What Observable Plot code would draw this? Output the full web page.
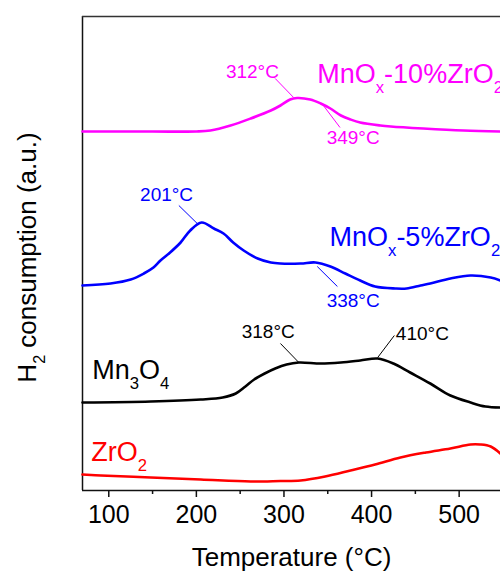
<!DOCTYPE html>
<html>
<head>
<meta charset="utf-8">
<script src="https://cdn.jsdelivr.net/npm/d3@7"></script>
<script src="https://cdn.jsdelivr.net/npm/@observablehq/plot@0.6"></script>
<style>
  html, body { margin: 0; padding: 0; background: #fff; }
  #chart svg { display: block; }
</style>
</head>
<body>
<div id="chart"></div>
<script>
// ---- Data (temperature in °C, signal in a.u., curves offset vertically) ----
const tempMn10 = [70,150,200,216,239,262,285,296,307,315,330,342,353,365,376,387,410,422,459,505,547];
const sigMn10  = [359,359,359,360,365,372,380,385,391,392.5,391,387,382,375,371,368,365,364,362,360,359];

const tempMn5 = [70,102,125,140,151,159,170,182,193,206,220,231,242,254,270,285,296,319,336,353,370,387,404,427,440,456,467,490,513,536,547];
const sigMn5  = [205,207,211,217,223,230,238,248,260,268,262,257,248,240,232,228,227,227,228,224,217,210,204,202,202,205,207,212,215,213,210];

const tempMn3O4 = [70,148,205,230,245,256,266,278,290,303,317,342,365,387,407,425,444,467,490,513,530,547];
const sigMn3O4  = [88,89,91,93,97,104,111,117,122,126,128,127,128,130,132,127,118,107,95,88,84,83];

const tempZrO2 = [70,91,148,205,262,296,319,347,376,404,433,462,490,513,524,536,547];
const sigZrO2  = [16,15,13,11,9,9.5,10,14,20,26,33,38,42,46,46,44,37];

const seriesNames  = ["MnO_x-10%ZrO_2", "MnO_x-5%ZrO_2", "Mn_3O_4", "ZrO_2"];
const seriesColors = ["#ff00ff", "#0000ff", "#000000", "#ff0000"];
const seriesTemps  = [tempMn10, tempMn5, tempMn3O4, tempZrO2];
const seriesSigs   = [sigMn10, sigMn5, sigMn3O4, sigZrO2];
// series name label anchor (temperature, signal) — start of text, baseline
const nameT = [338, 352, 81, 80];
const nameV = [408, 245, 112, 30];

// peak annotations
const peakLabels = ["312°C", "349°C", "201°C", "338°C", "318°C", "410°C"];
const peakSeries = [0, 0, 1, 1, 2, 2];
const peakLabelT = [264, 379, 166, 379, 282, 458];
const peakLabelV = [419, 353, 296, 190, 159, 157];
const leaderT1 = [290, 345, 180, 338, 296, 426];
const leaderV1 = [412, 385, 285, 224, 147, 155];
const leaderT2 = [311, 364, 201, 361, 317, 407];
const leaderV2 = [393, 363, 267, 204, 128, 133];

const xTicks = [100, 200, 300, 400, 500];
const xMinorTicks = [150, 250, 350, 450];
const xDomain = [70, 547.2];
const yDomain = [0, 474];

// ---- Build tables ----
const curveRows = seriesNames.flatMap((name, s) =>
  seriesTemps[s].map((t, i) => ({series: name, s, T: t, v: seriesSigs[s][i]})));
const nameRows = seriesNames.map((name, s) => ({name, s, T: nameT[s], v: nameV[s]}));
const peakRows = peakLabels.map((label, i) => ({
  label, s: peakSeries[i], T: peakLabelT[i], v: peakLabelV[i],
  T1: leaderT1[i], v1: leaderV1[i], T2: leaderT2[i], v2: leaderV2[i]
}));
const col = d => seriesColors[d.s];

const font = "'Liberation Sans', Arial, Helvetica, sans-serif";

const chart = Plot.plot({
  width: 500,
  height: 571,
  marginLeft: 82,
  marginRight: 0,
  marginTop: 16,
  marginBottom: 81,
  style: {fontFamily: font, background: "#fff", color: "#000", overflow: "hidden"},
  x: {domain: xDomain},
  y: {domain: yDomain, axis: null},
  marks: [
    // frame: left, top, bottom
    Plot.ruleX([xDomain[0]], {stroke: "#111", strokeWidth: 1.5}),
    Plot.ruleY([yDomain[1]], {stroke: "#333", strokeWidth: 1.5}),
    Plot.ruleY([yDomain[0]], {stroke: "#111", strokeWidth: 1.5}),
    Plot.axisX({ticks: xTicks, tickSize: 7, tickPadding: 8, fontSize: 25, label: null, stroke: "#111", strokeWidth: 1.5}),
    Plot.axisX({ticks: xMinorTicks, tickSize: 4, tickFormat: () => "", label: null, stroke: "#111", strokeWidth: 1.5}),
    // curves
    Plot.line(curveRows, {x: "T", y: "v", z: "series", stroke: col, strokeWidth: 2.6, curve: "catmull-rom"}),
    // leader lines
    Plot.link(peakRows, {x1: "T1", y1: "v1", x2: "T2", y2: "v2", stroke: col, strokeWidth: 1}),
    // peak labels
    Plot.text(peakRows, {x: "T", y: "v", text: "label", fill: col, fontSize: 19, textAnchor: "middle", lineAnchor: "middle"}),
    // series names
    Plot.text(nameRows, {x: "T", y: "v", text: "name", fill: col, fontSize: 27, textAnchor: "start", lineAnchor: "bottom"}),
    // axis titles
    Plot.text(["Temperature (°C)"], {frameAnchor: "bottom", dy: 75, text: d => d, fontSize: 26, textAnchor: "middle", lineAnchor: "bottom", fill: "#000"}),
    Plot.text(["H_2 consumption (a.u.)"], {frameAnchor: "left", dx: -47, dy: 4, rotate: -90, text: d => d, fontSize: 26, textAnchor: "middle", lineAnchor: "bottom", fill: "#000"})
  ]
});

document.getElementById("chart").appendChild(chart);

// subscripts: "_c" marks a subscript character
const NS = "http://www.w3.org/2000/svg";
chart.querySelectorAll("text").forEach(t => {
  const s = t.textContent;
  if (!s.includes("_")) return;
  const fs = parseFloat(getComputedStyle(t).fontSize) || 26;
  const parts = s.split(/_(.)/);
  while (t.firstChild) t.removeChild(t.firstChild);
  let down = false;
  parts.forEach((p, i) => {
    if (!p) return;
    const ts = document.createElementNS(NS, "tspan");
    ts.textContent = p;
    if (i % 2 === 1) {
      ts.setAttribute("font-size", (fs * 0.62).toFixed(1));
      if (!down) ts.setAttribute("dy", (fs * 0.38).toFixed(1));
      down = true;
    } else if (down) {
      ts.setAttribute("dy", (-fs * 0.38).toFixed(1));
      down = false;
    }
    t.appendChild(ts);
  });
});
</script>
</body>
</html>
